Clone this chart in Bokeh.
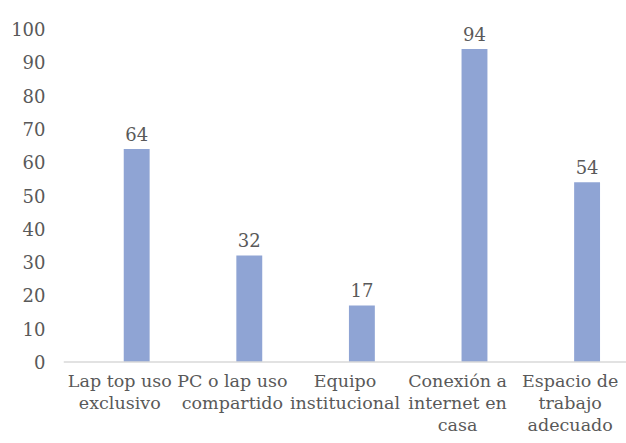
from bokeh.plotting import figure
from bokeh.models import ColumnDataSource, FixedTicker, Span
from bokeh.transform import dodge
from bokeh.core.properties import value
from bokeh.embed import file_html
from bokeh.resources import INLINE

# Categories (multi-line labels) and percentages
categories = [
    "Lap top uso\nexclusivo",
    "PC o lap uso\ncompartido",
    "Equipo\ninstitucional",
    "Conexión a\ninternet en\ncasa",
    "Espacio de\ntrabajo\nadecuado",
]
values = [64, 32, 17, 94, 54]
y_ticks = [0, 10, 20, 30, 40, 50, 60, 70, 80, 90, 100]

FONT = "DejaVu Serif"
FONT_SIZE = "18px"
CAT_FONT_SIZE = "17.5px"
TEXT_COLOR = "#595959"
BAR_COLOR = "#8fa4d4"

source = ColumnDataSource(data=dict(cat=categories, val=values,
                                    lbl=[str(v) for v in values],
                                    base=[0] * len(values)))

# The frame runs down to the bottom edge so the category names can sit
# below the zero line inside it.
p = figure(
    width=626, height=443,
    x_range=categories, y_range=(-24.5, 108),
    output_backend="svg", toolbar_location=None,
    min_border_left=63, min_border_right=0,
    min_border_top=2, min_border_bottom=0,
)

bar_x = dodge("cat", 0.15, range=p.x_range)
p.vbar(x=bar_x, top="val", bottom=0, width=0.23, source=source,
       fill_color=BAR_COLOR, line_color=None)

# zero line
p.add_layout(Span(location=0, dimension="width",
                  line_color="#d9d9d9", line_width=1.5))

# value labels above the bars
p.text(x=bar_x, y="val", text="lbl", source=source,
       text_align="center", text_baseline="alphabetic", y_offset=-15,
       text_font=value(FONT), text_font_size=FONT_SIZE, text_color=TEXT_COLOR)

# category names under the zero line
p.text(x="cat", y="base", text="cat", source=source,
       text_align="center", text_baseline="top", y_offset=9,
       text_line_height=1.1,
       text_font=value(FONT), text_font_size=CAT_FONT_SIZE, text_color=TEXT_COLOR)

p.xgrid.grid_line_color = None
p.ygrid.grid_line_color = None
p.outline_line_color = None
p.background_fill_color = "white"
p.border_fill_color = "white"

p.xaxis.visible = False

p.yaxis.ticker = FixedTicker(ticks=y_ticks)
p.yaxis.axis_line_color = None
p.yaxis.major_tick_line_color = None
p.yaxis.minor_tick_line_color = None
p.yaxis.major_label_standoff = 12
p.yaxis.major_label_text_font = FONT
p.yaxis.major_label_text_font_size = FONT_SIZE
p.yaxis.major_label_text_color = TEXT_COLOR

open("out.html", "w").write(file_html(p, INLINE))
